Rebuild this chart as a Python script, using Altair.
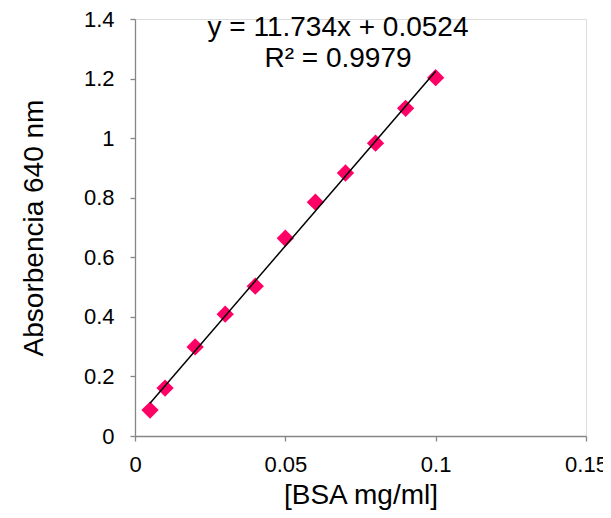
import altair as alt
import pandas as pd

# Data
conc = [0.005, 0.01, 0.02, 0.03, 0.04, 0.05, 0.06, 0.07, 0.08, 0.09, 0.1]
absorb = [0.087, 0.161, 0.299, 0.409, 0.503, 0.664, 0.785, 0.883, 0.983, 1.100, 1.203]
x_ticks = [0, 0.05, 0.1, 0.15]
y_ticks = [0, 0.2, 0.4, 0.6, 0.8, 1.0, 1.2, 1.4]
equation_lines = ["y = 11.734x + 0.0524", "R² = 0.9979"]

df = pd.DataFrame({"x": conc, "y": absorb})
FONT = "Liberation Sans"
AXIS_COLOR = "#868686"

xscale = alt.Scale(domain=[0, 0.15], nice=False, zero=False)
yscale = alt.Scale(domain=[0, 1.4], nice=False, zero=False)

xaxis = alt.Axis(
    title="[BSA mg/ml]", values=x_ticks, format="~g", grid=False,
    domainColor=AXIS_COLOR, tickColor=AXIS_COLOR, tickSize=5, domainWidth=1.3,
    tickWidth=1.3,
    labelFontSize=22, labelFont=FONT, labelColor="#000000", labelPadding=13,
    titleFontSize=28, titleFont=FONT, titleFontWeight="normal", titleColor="#000000",
    titlePadding=6, labelFlush=False,
)
yaxis = alt.Axis(
    title="Absorbencia 640 nm", values=y_ticks, format="~g", grid=False,
    domainColor=AXIS_COLOR, tickColor=AXIS_COLOR, tickSize=5, domainWidth=1.3,
    tickWidth=1.3,
    labelFontSize=22, labelFont=FONT, labelColor="#000000", labelPadding=16,
    titleFontSize=28, titleFont=FONT, titleFontWeight="normal", titleColor="#000000",
    titlePadding=35, labelFlush=False,
)

base = alt.Chart(df)

points = base.mark_point(
    shape="diamond", filled=True, size=300, color="#FF0066", opacity=1
).encode(
    x=alt.X("x:Q", scale=xscale, axis=xaxis),
    y=alt.Y("y:Q", scale=yscale, axis=yaxis),
)

trend = base.transform_regression("x", "y", extent=[0.005, 0.1]).mark_line(
    color="#000000", strokeWidth=1.5
).encode(
    x=alt.X("x:Q", scale=xscale),
    y=alt.Y("y:Q", scale=yscale),
)

eq_df = pd.DataFrame({"line": equation_lines})
eq1 = alt.Chart(eq_df.iloc[[0]]).mark_text(
    font=FONT, fontSize=28, color="#000000", align="center", baseline="middle"
).encode(text="line:N", x=alt.value(203), y=alt.value(9))
eq2 = alt.Chart(eq_df.iloc[[1]]).mark_text(
    font=FONT, fontSize=28, color="#000000", align="center", baseline="middle"
).encode(text="line:N", x=alt.value(203), y=alt.value(40))

chart = alt.layer(points, trend, eq1, eq2).properties(
    width=451, height=417,
    autosize=alt.AutoSizeParams(type="none"),
    padding={"left": 127, "top": 11, "right": 17, "bottom": 74},
).configure_view(stroke=None).configure(background="#ffffff")

chart.save("out.html", embed_options={"renderer": "svg", "actions": False})
